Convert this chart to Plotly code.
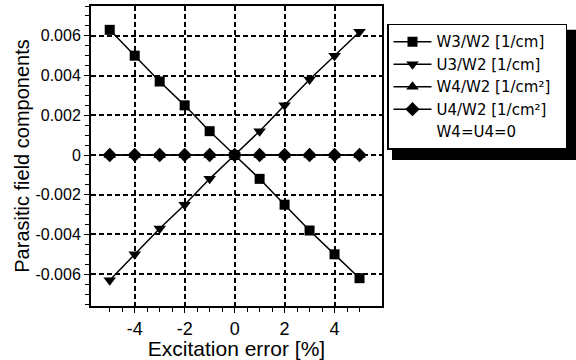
import plotly.graph_objects as go

x_vals = [-5, -4, -3, -2, -1, 0, 1, 2, 3, 4, 5]
w3_w2 = [0.0063, 0.0050, 0.0037, 0.0025, 0.0012, 0.0, -0.0012, -0.0025, -0.0038, -0.0050, -0.0062]
u3_w2 = [-0.0063, -0.0050, -0.0037, -0.0025, -0.0012, 0.0, 0.0012, 0.0025, 0.0038, 0.0050, 0.0062]
w4_w2 = [0.0] * 11
u4_w2 = [0.0] * 11

names = ["W3/W2 [1/cm]", "U3/W2 [1/cm]", "W4/W2 [1/cm²]\u00a0\u00a0", "U4/W2 [1/cm²]"]
symbols = ["square", "triangle-down", "triangle-up", "diamond"]
series = [w3_w2, u3_w2, w4_w2, u4_w2]
sizes = [10, 11, 11, 11]
note_text = "W4=U4=0"

x_ticks = [-4, -2, 0, 2, 4]
x_tick_text = ["-4", "-2", "0", "2", "4"]
x_minor = [-5, -4.5, -3.5, -3, -2.5, -1.5, -1, -0.5, 0.5, 1, 1.5, 2.5, 3, 3.5, 4.5, 5]
y_ticks = [-0.006, -0.004, -0.002, 0, 0.002, 0.004, 0.006]
y_tick_text = ["-0.006", "-0.004", "-0.002", "0", "0.002", "0.004", "0.006"]

font_family = "Liberation Sans, Arial, sans-serif"
legend_family = "DejaVu Sans, sans-serif"

fig = go.Figure()
for name, sym, ys, sz in zip(names, symbols, series, sizes):
    fig.add_trace(go.Scatter(
        x=x_vals, y=ys, name=name, mode="lines+markers",
        line=dict(color="black", width=1.5),
        marker=dict(symbol=sym, size=sz, color="black"),
    ))
fig.add_trace(go.Scatter(
    x=[None], y=[None], name=note_text, mode="lines",
    line=dict(color="rgba(0,0,0,0)", width=0),
))

axis_common = dict(
    showline=True, linecolor="black", linewidth=2, mirror=True,
    showgrid=True, gridcolor="black", gridwidth=2, griddash="5px,3px",
    zeroline=False, ticks="outside", ticklen=5, tickwidth=1.3, tickcolor="black",
)

fig.update_xaxes(
    range=[-5.75, 5.9], tickvals=x_ticks, ticktext=x_tick_text,
    tickfont=dict(family=font_family, size=18, color="black"),
    minor=dict(tickvals=x_minor, ticks="outside", ticklen=4, tickwidth=1.3, tickcolor="black"),
    title=dict(text="Excitation error [%]", font=dict(family=font_family, size=21, color="black"), standoff=2),
    **axis_common,
)
fig.update_yaxes(
    range=[-0.0076, 0.0075], tickvals=y_ticks, ticktext=y_tick_text,
    tickfont=dict(family=font_family, size=16, color="black"),
    minor=dict(dtick=0.0005, tick0=0, ticks="outside", ticklen=4, tickwidth=1.3, tickcolor="black"),
    title=dict(text="Parasitic field components", font=dict(family=font_family, size=20, color="black"), standoff=0),
    **axis_common,
)

# plot area in pixels: x 91..382, y 4..306
def px_x(p):
    return (p - 91) / 291.0

def px_y(p):
    return (306 - p) / 302.0

# legend drop shadow
fig.add_shape(type="rect", xref="paper", yref="paper",
              x0=px_x(392), x1=px_x(578), y0=px_y(159), y1=px_y(28),
              fillcolor="black", line=dict(width=0), layer="above")

fig.update_layout(
    width=576, height=360,
    margin=dict(l=91, r=194, t=4, b=54),
    paper_bgcolor="white", plot_bgcolor="white",
    font=dict(family=font_family, color="black"),
    showlegend=True,
    legend=dict(
        x=px_x(387), y=px_y(22), xanchor="left", yanchor="top",
        bgcolor="white", bordercolor="black", borderwidth=1.5,
        font=dict(family=legend_family, size=15, color="black"),
        tracegroupgap=0, itemwidth=38,
    ),
)

fig.write_html("out.html")
